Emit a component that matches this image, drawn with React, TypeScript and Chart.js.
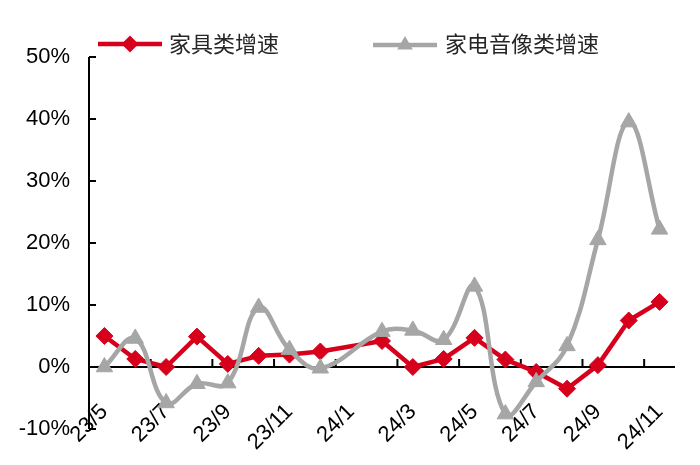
import React, { useEffect, useRef } from 'react';
import { Chart, registerables } from 'chart.js';

Chart.register(...registerables);

const categories = ['23/5', '23/6', '23/7', '23/8', '23/9', '23/10', '23/11', '23/12', '24/1', '24/2', '24/3', '24/4', '24/5', '24/6', '24/7', '24/8', '24/9', '24/10', '24/11'];
const seriesNames = ['家具类增速', '家电音像类增速'];
const furniture = [5.0, 1.3, 0.0, 4.9, 0.5, 1.8, 2.0, 2.5, null, 4.2, 0.0, 1.3, 4.7, 1.2, -0.8, -3.5, 0.3, 7.5, 10.5];
const appliances = [0.0, 4.6, -5.8, -2.7, -2.6, 9.6, 2.8, -0.2, null, 5.7, 5.9, 4.4, 13.0, -7.6, -2.4, 3.4, 20.5, 39.5, 22.2];
const yMin = -10;
const yMax = 50;
const yStep = 10;

const RED = '#D7001C';
const GRAY = '#A6A6A6';
const LATIN = '"Liberation Sans", Arial, sans-serif';
const CJK = '"Noto Sans CJK SC", sans-serif';

function drawMarker(ctx: CanvasRenderingContext2D, style: string, x: number, y: number, r: number, color: string) {
  ctx.save();
  ctx.fillStyle = color;
  ctx.beginPath();
  if (style === 'diamond') {
    ctx.moveTo(x - r, y);
    ctx.lineTo(x, y - r);
    ctx.lineTo(x + r, y);
    ctx.lineTo(x, y + r);
  } else {
    const s = r * Math.sin(Math.PI / 3);
    ctx.moveTo(x, y - r);
    ctx.lineTo(x + s, y + r / 2);
    ctx.lineTo(x - s, y + r / 2);
  }
  ctx.closePath();
  ctx.fill();
  ctx.restore();
}

const axesPlugin = {
  id: 'axesPlugin',
  beforeDatasetsDraw(chart: any) {
    const { ctx, chartArea, scales } = chart;
    const xs = scales.x;
    const ys = scales.y;
    ctx.save();
    ctx.strokeStyle = '#000';
    ctx.lineWidth = 2;
    ctx.beginPath();
    ctx.moveTo(chartArea.left, chartArea.top);
    ctx.lineTo(chartArea.left, chartArea.bottom);
    ctx.stroke();
    ys.ticks.forEach((t: any) => {
      const py = ys.getPixelForValue(t.value);
      ctx.beginPath();
      ctx.moveTo(chartArea.left, py);
      ctx.lineTo(chartArea.left + 7, py);
      ctx.stroke();
    });
    const y0 = ys.getPixelForValue(0);
    ctx.beginPath();
    ctx.moveTo(chartArea.left, y0);
    ctx.lineTo(chartArea.right, y0);
    ctx.stroke();
    for (let i = 2; i < categories.length; i += 2) {
      const px = (xs.getPixelForValue(i - 1) + xs.getPixelForValue(i)) / 2;
      ctx.beginPath();
      ctx.moveTo(px, y0);
      ctx.lineTo(px, y0 - 8);
      ctx.stroke();
    }
    ctx.restore();
  },
};

const legendPlugin = {
  id: 'customLegend',
  afterDraw(chart: any) {
    const { ctx } = chart;
    const items = [
      { label: seriesNames[0], color: RED, style: 'diamond', x0: 98, x1: 162, tx: 169, y: 44, r: 8.5 },
      { label: seriesNames[1], color: GRAY, style: 'triangle', x0: 373, x1: 437, tx: 445, y: 45, r: 9 },
    ];
    ctx.save();
    items.forEach((it) => {
      ctx.strokeStyle = it.color;
      ctx.lineWidth = 4.5;
      ctx.beginPath();
      ctx.moveTo(it.x0, it.y);
      ctx.lineTo(it.x1, it.y);
      ctx.stroke();
      drawMarker(ctx, it.style, (it.x0 + it.x1) / 2, it.y, it.r, it.color);
      ctx.fillStyle = '#262626';
      ctx.font = `22px ${CJK}`;
      ctx.textBaseline = 'middle';
      ctx.textAlign = 'left';
      ctx.fillText(it.label, it.tx, 44);
    });
    ctx.restore();
  },
};

export default function App() {
  const canvasRef = useRef<HTMLCanvasElement | null>(null);

  useEffect(() => {
    if (!canvasRef.current) return;
    const chart = new Chart(canvasRef.current, {
      type: 'line',
      data: {
        labels: categories,
        datasets: [
          {
            label: seriesNames[0],
            data: furniture,
            borderColor: RED,
            backgroundColor: RED,
            borderWidth: 4.5,
            borderJoinStyle: 'round',
            pointStyle: 'rectRot',
            pointRadius: 8.5,
            pointBorderWidth: 1,
            pointBackgroundColor: RED,
            pointBorderColor: RED,
            tension: 0,
            spanGaps: true,
            order: 1,
          },
          {
            label: seriesNames[1],
            data: appliances,
            borderColor: GRAY,
            backgroundColor: GRAY,
            borderWidth: 4.5,
            pointStyle: 'triangle',
            pointRadius: 9.5,
            pointBorderWidth: 1,
            pointBackgroundColor: GRAY,
            pointBorderColor: GRAY,
            tension: 0.4,
            spanGaps: true,
            order: 0,
          },
        ],
      },
      options: {
        animation: false,
        responsive: true,
        maintainAspectRatio: false,
        layout: { padding: { left: 0, right: 25, top: 57, bottom: 36 } },
        plugins: {
          legend: { display: false },
          tooltip: { enabled: false },
        },
        scales: {
          x: {
            type: 'category',
            offset: true,
            position: { y: 0 },
            grid: { display: false, drawTicks: false },
            border: { display: false },
            ticks: {
              autoSkip: false,
              minRotation: 45,
              maxRotation: 45,
              padding: 32,
              color: '#000',
              font: { family: LATIN, size: 22 },
              callback: (_v: any, idx: number) => (idx % 2 === 0 ? categories[idx] : ''),
            },
            afterFit: (s: any) => {
              s.paddingLeft = 0;
              s.paddingRight = 0;
            },
          },
          y: {
            min: yMin,
            max: yMax,
            grid: { display: false, drawTicks: false },
            border: { display: false },
            ticks: {
              stepSize: yStep,
              padding: 19,
              color: '#000',
              font: { family: LATIN, size: 22 },
              callback: (v: any) => `${v}%`,
            },
            afterFit: (s: any) => {
              s.width = 89;
              s.paddingTop = 0;
              s.paddingBottom = 0;
            },
          },
        },
      } as any,
      plugins: [axesPlugin, legendPlugin],
    });
    return () => chart.destroy();
  }, []);

  return (
    <div style={{ position: 'absolute', left: 0, top: 0, width: 700, height: 465, background: '#fff' }}>
      <canvas ref={canvasRef} />
    </div>
  );
}
